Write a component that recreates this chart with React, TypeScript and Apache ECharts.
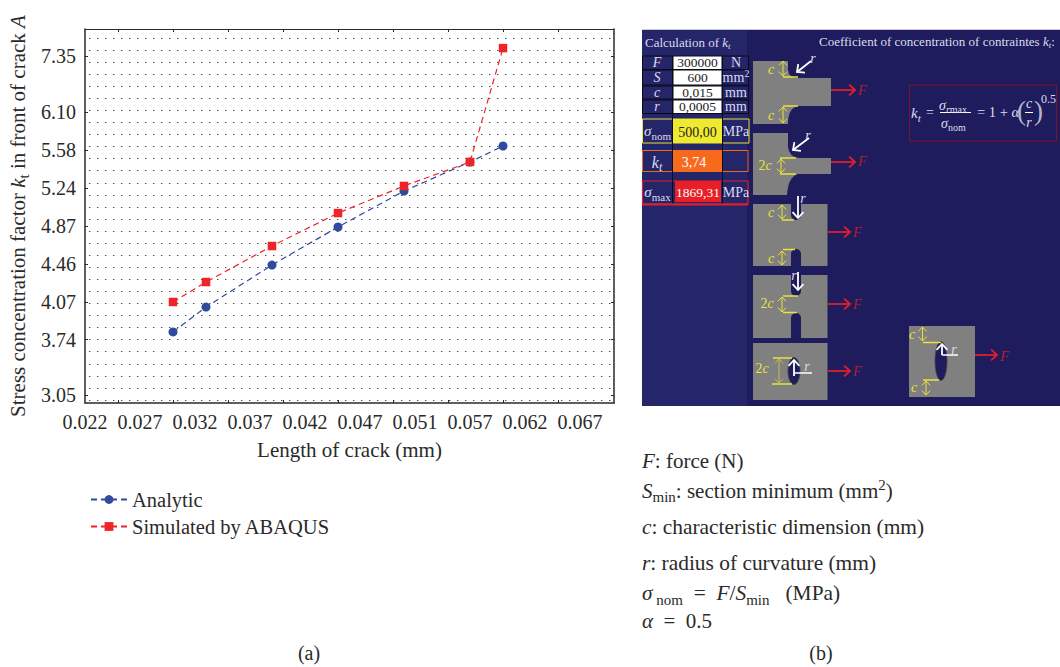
import React, { useEffect, useRef } from "react";
import * as echarts from "echarts";

const crackLengths = [0.03, 0.033, 0.039, 0.045, 0.051, 0.057, 0.06];
const analyticValues = [3.807, 4.024, 4.448, 4.859, 5.211, 5.474, 5.637];
const abaqusValues = [4.068, 4.273, 4.653, 4.996, 5.259, 5.474, 7.53];
const seriesNames = ["Analytic", "Simulated by ABAQUS"];

const xLabelValues = [0.022, 0.027, 0.032, 0.037, 0.042, 0.047, 0.052, 0.057, 0.062, 0.067];
const xLabelTexts = ["0.022", "0.027", "0.032", "0.037", "0.042", "0.047", "0.051", "0.057", "0.062", "0.067"];
const xTickValues = [0.025, 0.03, 0.035, 0.04, 0.045, 0.05, 0.055, 0.06, 0.065];

const yLabelValues = [3.05, 3.74, 4.07, 4.46, 4.87, 5.24, 5.58, 6.1, 7.35];
// The reference's y axis is not linear: each tick label has its own place on the axis.
const yLabelPlaces = [0, 1.46, 2.46, 3.46, 4.46, 5.46, 6.46, 7.46, 8.94];

const serif = "'Liberation Serif', 'Times New Roman', serif";

function place(v: number) {
  let i = 0;
  while (i < yLabelValues.length - 2 && v > yLabelValues[i + 1]) i++;
  const t = (v - yLabelValues[i]) / (yLabelValues[i + 1] - yLabelValues[i]);
  return yLabelPlaces[i] + t * (yLabelPlaces[i + 1] - yLabelPlaces[i]);
}

function rich(size: number, color: string) {
  const lh = Math.round(size * 1.3);
  const base = { fontFamily: serif, fill: color, color, lineHeight: lh };
  return {
    n: { ...base, fontSize: size },
    i: { ...base, fontSize: size, fontStyle: "italic" },
    s: { ...base, fontSize: Math.round(size * 0.72), verticalAlign: "bottom" },
    si: { ...base, fontSize: Math.round(size * 0.72), fontStyle: "italic", verticalAlign: "bottom" },
    u: { ...base, fontSize: Math.round(size * 0.72), verticalAlign: "top" },
  };
}

function T(x: number, y: number, text: string, size: number, color: string, align = "left") {
  return {
    type: "text",
    x,
    y,
    z: 30,
    style: { text, rich: rich(size, color), align, verticalAlign: "middle", font: `${size}px ${serif}`, fill: color },
  };
}

function L(x1: number, y1: number, x2: number, y2: number, color: string, w = 1) {
  return { type: "line", z: 25, shape: { x1, y1, x2, y2 }, style: { stroke: color, lineWidth: w } };
}

function head(x1: number, y1: number, x2: number, y2: number, color: string, w: number, h: number) {
  const a = Math.atan2(y2 - y1, x2 - x1);
  const p = (d: number) => [x2 - h * Math.cos(a + d), y2 - h * Math.sin(a + d)];
  return {
    type: "polyline",
    z: 25,
    shape: { points: [p(0.75), [x2, y2], p(-0.75)] },
    style: { stroke: color, lineWidth: w, fill: "none" },
  };
}

function A(x1: number, y1: number, x2: number, y2: number, color: string, w = 1.8, h = 8) {
  return [L(x1, y1, x2, y2, color, w), head(x1, y1, x2, y2, color, w, h)];
}

function D(x1: number, y1: number, x2: number, y2: number, color: string) {
  return [L(x1, y1, x2, y2, color, 1), head(x1, y1, x2, y2, color, 1, 6), head(x2, y2, x1, y1, color, 1, 6)];
}

function R(x: number, y: number, width: number, height: number, fill: string, stroke?: string, w = 1) {
  return {
    type: "rect",
    z: 20,
    shape: { x, y, width, height },
    style: { fill, stroke: stroke ?? "none", lineWidth: w },
  };
}

const BG = "#1e1c5c";
const PANEL = "#25256a";
const GRAY = "#808080";
const YEL = "#e9e33c";
const RED = "#e01f2b";
const WHITE = "#ffffff";
const SOFT = "#dcdcec";
const FRED = "#a8202f";

echarts.graphic.registerShape(
  "flat1",
  echarts.graphic.extendPath("M753 61L788 61L788 70Q789 78 798 78L831 78L831 106L798 106Q788 108 788 124L753 124Z", {})
);
echarts.graphic.registerShape(
  "flat2",
  echarts.graphic.extendPath("M753 133L788 133L788 147Q789 157 799 158L831 158L831 174L798 174Q788 177 787 195L753 195Z", {})
);

function notch(x: number, y: number, w: number, h: number, top: boolean) {
  const r = w / 2;
  return [
    { type: "rect", z: 22, shape: { x, y: top ? y : y + r, width: w, height: h - r }, style: { fill: BG } },
    { type: "ellipse", z: 22, shape: { cx: x + r, cy: top ? y + h - r : y + r, rx: r, ry: r }, style: { fill: BG } },
  ];
}

function schematic() {
  const g: any[] = [];
  g.push(R(642, 29, 418, 1.5, "#c8c8d4"));
  g.push(R(642, 30, 418, 376, BG));
  g.push(R(642, 30, 105, 376, PANEL));
  g.push(T(645, 42, "{n|Calculation of }{i|k}{si|t}", 13, SOFT));
  g.push(T(819, 41, "{n|Coefficient of concentration of contraintes }{i|k}{si|t}{n|:}", 13, SOFT));

  // table rows
  const rows: [number, number, string, string, string][] = [
    [56, 13.5, "F", "300000", "N"],
    [70, 15, "S", "600", "mm2"],
    [86, 13, "c", "0,015", "mm"],
    [100, 13.5, "r", "0,0005", "mm"],
  ];
  rows.forEach(([y, h, a, v, u]) => {
    g.push(R(642.5, y, 30, h, PANEL, "#0a0a14", 1));
    g.push(R(673, y, 49, h, WHITE, "#0a0a14", 1));
    g.push(R(722.5, y, 26, h, PANEL, "#0a0a14", 1));
    g.push(T(657, y + h / 2, `{i|${a}}`, 14, SOFT, "center"));
    g.push(T(697.5, y + h / 2, `{n|${v}}`, 13.5, "#222222", "center"));
    g.push(T(736, y + h / 2, u === "mm2" ? "{n|mm}{u|2}" : `{n|${u}}`, 14, SOFT, "center"));
  });

  g.push(L(672.5, 113, 672.5, 205, "#0a0a14", 1));
  g.push(L(722.5, 113, 722.5, 205, "#0a0a14", 1));

  g.push(R(642.5, 119, 106.5, 24, "none", "#e9e33c", 1));
  g.push(R(673, 119, 49, 24, "#efe92f"));
  g.push(T(657.5, 131, "{i|σ}{s|nom}", 15, SOFT, "center"));
  g.push(T(697.5, 132, "{n|500,00}", 14, "#222222", "center"));
  g.push(T(736, 131, "{n|MPa}", 14, SOFT, "center"));

  g.push(R(642.5, 150.5, 105.5, 21, "none", "#f06a20", 1));
  g.push(R(673, 150.5, 49, 21, "#f76a1e"));
  g.push(T(657, 162, "{i|k}{si|t}", 16, SOFT, "center"));
  g.push(T(694, 162, "{n|3,74}", 14, WHITE, "center"));

  g.push(R(642.5, 181, 105.5, 23, "none", "#e01f2b", 1.2));
  g.push(L(642, 204.5, 748, 204.5, RED, 2));
  g.push(R(675, 181, 46, 21, "#e81f27"));
  g.push(T(657.5, 192, "{i|σ}{s|max}", 15, SOFT, "center"));
  g.push(T(698, 192, "{n|1869,31}", 13.5, WHITE, "center"));
  g.push(T(736, 192, "{n|MPa}", 14, SOFT, "center"));

  // shape 1
  g.push({ type: "flat1", z: 21, style: { fill: GRAY } });
  g.push(L(783, 77, 798, 77, YEL, 1.5), L(783, 106, 798, 106, YEL, 1.5));
  g.push(...D(783, 61, 783, 76, YEL), ...D(783, 107, 783, 123, YEL));
  g.push(T(771, 69, "{i|c}", 14, YEL, "center"), T(771, 115, "{i|c}", 14, YEL, "center"));
  g.push(...A(811, 61, 797, 72, WHITE));
  g.push(T(813, 58, "{i|r}", 14, SOFT, "center"));
  g.push(...A(831, 90, 855, 90, RED));
  g.push(T(858, 90, "{i|F}", 14, FRED));

  // shape 2
  g.push({ type: "flat2", z: 21, style: { fill: GRAY } });
  g.push(L(780, 158, 796, 158, YEL, 1.5), L(780, 174, 796, 174, YEL, 1.5));
  g.push(...D(781, 159, 781, 173, YEL));
  g.push(T(765, 165, "{n|2}{i|c}", 14, YEL, "center"));
  g.push(...A(809, 138, 793, 150, WHITE));
  g.push(T(808, 135, "{i|r}", 14, SOFT, "center"));
  g.push(...A(831, 162, 855, 162, RED));
  g.push(T(858, 161, "{i|F}", 14, FRED));

  // shape 3
  g.push(R(753, 204, 74.5, 62, GRAY));
  g.push(...notch(791, 204, 10, 16, true), ...notch(791, 249, 10, 17, false));
  g.push(L(782, 220, 794, 220, YEL, 1.5), L(783, 249.5, 795, 249.5, YEL, 1.5));
  g.push(...D(782, 205, 782, 219, YEL), ...D(782, 251, 782, 265, YEL));
  g.push(T(771, 212, "{i|c}", 14, YEL, "center"), T(771, 258, "{i|c}", 14, YEL, "center"));
  g.push(...A(798, 196, 798, 218, WHITE));
  g.push(T(803, 198, "{i|r}", 14, SOFT, "center"));
  g.push(...A(828, 232, 850, 232, RED));
  g.push(T(853, 232, "{i|F}", 14, FRED));

  // shape 4
  g.push(R(753, 275, 74.5, 63, GRAY));
  g.push(...notch(791, 275, 10, 21, true), ...notch(791, 313, 10, 25, false));
  g.push(L(783, 296, 798, 296, YEL, 1.5), L(783, 312.5, 797, 312.5, YEL, 1.5));
  g.push(...D(782, 297, 782, 312, YEL));
  g.push(T(767, 303, "{n|2}{i|c}", 14, YEL, "center"));
  g.push(...A(798, 272, 798, 290, WHITE));
  g.push(T(794, 275, "{i|r}", 14, SOFT, "center"));
  g.push(...A(828, 304, 850, 304, RED));
  g.push(T(853, 304, "{i|F}", 14, FRED));

  // shape 5
  g.push(R(753, 343, 74.5, 57, GRAY));
  g.push({ type: "ellipse", z: 22, shape: { cx: 794, cy: 371, rx: 6, ry: 13.5 }, style: { fill: BG, stroke: "#444444", lineWidth: 0.8 } });
  g.push(L(773, 358, 792, 358, YEL, 1.5), L(772, 384, 792, 384, YEL, 1.5));
  g.push(...D(779, 359, 779, 383, "#c4bf55"));
  g.push(T(762, 368, "{n|2}{i|c}", 14, YEL, "center"));
  g.push(...A(794, 376, 794, 360, WHITE));
  g.push(L(794, 373, 812, 373, WHITE, 1.5));
  g.push(T(807, 366, "{i|r}", 14, SOFT, "center"));
  g.push(...A(828, 371, 850, 371, RED));
  g.push(T(853, 371, "{i|F}", 14, FRED));

  // shape 6
  g.push(R(909, 326, 66, 71, GRAY));
  g.push({ type: "ellipse", z: 22, shape: { cx: 941, cy: 361, rx: 6, ry: 19.5 }, style: { fill: BG, stroke: "#444444", lineWidth: 0.8 } });
  g.push(L(923, 342.5, 941, 342.5, YEL, 1.5), L(923, 380, 939, 380, YEL, 1.5));
  g.push(...D(922.5, 327, 922.5, 341, YEL), ...D(926, 381, 926, 395, YEL));
  g.push(T(912, 334, "{i|c}", 14, YEL, "center"), T(914, 387, "{i|c}", 14, YEL, "center"));
  g.push(...A(942, 355, 942, 344, WHITE));
  g.push(L(942, 355, 958, 355, WHITE, 1.5));
  g.push(T(954, 349, "{i|r}", 14, SOFT, "center"));
  g.push(...A(975, 355, 997, 355, RED));
  g.push(T(1000, 356, "{i|F}", 15, FRED));

  // formula box
  g.push(R(909.5, 85, 147, 56, "none", "#7c1226", 1));
  g.push(T(911, 113, "{i|k}{si|t}", 15, SOFT));
  g.push(T(926, 112, "{n|=}", 14, SOFT));
  g.push(T(939, 105, "{i|σ}{si|r}{s|max}", 14, SOFT));
  g.push(L(940, 112.5, 971, 112.5, WHITE, 1));
  g.push(T(941, 123, "{i|σ}{s|nom}", 14, SOFT));
  g.push(T(977, 112, "{n|= 1 + }{i|α}", 14.5, SOFT));
  g.push(T(1017, 111, "{n|(}", 27, "#b4b4cc"));
  g.push(T(1029, 103, "{i|c}", 14, SOFT, "center"));
  g.push(L(1025, 112.5, 1033, 112.5, WHITE, 1));
  g.push(T(1029, 122, "{i|r}", 14, SOFT, "center"));
  g.push(T(1034, 111, "{n|)}", 27, "#b4b4cc"));
  g.push(T(1041, 99, "{n|0.5}", 12, SOFT));

  // key text
  const ink = "#2a2a2a";
  g.push(T(642, 461, "{i|F}{n|: force (N)}", 21, ink));
  g.push(T(642, 491, "{i|S}{s|min}{n|: section minimum (mm}{u|2}{n|)}", 21, ink));
  g.push(T(642, 527, "{i|c}{n|: characteristic dimension (mm)}", 21.4, ink));
  g.push(T(642, 563, "{i|r}{n|: radius of curvature (mm)}", 21.4, ink));
  g.push(T(642, 593, "{i|σ}{s| nom}{n|  =  }{i|F}{n|/}{i|S}{s|min}{n|   (MPa)}", 21.4, ink));
  g.push(T(642, 621, "{i|α}{n|  =  0.5}", 21, ink));
  g.push(T(309, 653, "{n|(a)}", 20, ink, "center"));
  g.push(T(821, 653, "{n|(b)}", 20, ink, "center"));
  return g;
}

export default function App() {
  const ref = useRef<HTMLDivElement>(null);
  useEffect(() => {
    const chart = echarts.init(ref.current!, undefined, { renderer: "svg" });
    const axisInk = { show: true, onZero: false, lineStyle: { color: "#2a2a2a", width: 1.5 } };
    const tick = (customValues: number[]) => ({
      show: true,
      inside: true,
      length: 3,
      customValues,
      lineStyle: { color: "#2a2a2a", width: 1 },
    });
    const yMin = -0.211;
    const yMax = 9.657;
    chart.setOption({
      animation: false,
      backgroundColor: "#ffffff",
      textStyle: { fontFamily: serif },
      grid: [
        { left: 85, top: 29, width: 529, height: 374, outerBoundsMode: "none" },
        { left: 85, top: 38, width: 529, height: 362, outerBoundsMode: "none" },
      ],
      legend: {
        show: true,
        orient: "vertical",
        left: 85,
        top: 484,
        itemWidth: 36,
        itemHeight: 11,
        itemGap: 6,
        data: seriesNames,
        textStyle: { fontFamily: serif, fontSize: 20.5, color: "#2a2a2a" },
      },
      xAxis: [
        {
          type: "value",
          gridIndex: 0,
          min: 0.022,
          max: 0.07009,
          position: "bottom",
          axisLine: axisInk,
          axisTick: tick(xTickValues),
          splitLine: { show: false },
          axisLabel: {
            show: true,
            customValues: xLabelValues,
            margin: 9,
            fontFamily: serif,
            fontSize: 20,
            color: "#2a2a2a",
            formatter: (v: number) => xLabelTexts[xLabelValues.findIndex((c) => Math.abs(c - v) < 1e-6)] ?? "",
            hideOverlap: false,
            showMinLabel: true,
          },
          name: "Length of crack (mm)",
          nameLocation: "middle",
          nameGap: 36,
          nameTextStyle: { fontFamily: serif, fontSize: 21, color: "#2a2a2a" },
        },
        { type: "value", gridIndex: 1, min: 0, max: 1, show: false },
        {
          type: "value",
          gridIndex: 0,
          min: 0.022,
          max: 0.07009,
          position: "top",
          axisLine: { ...axisInk, lineStyle: { color: "#2a2a2a", width: 1 } },
          axisTick: tick(xTickValues),
          axisLabel: { show: false },
          splitLine: { show: false },
        },
      ],
      yAxis: [
        {
          type: "value",
          gridIndex: 0,
          min: yMin,
          max: yMax,
          position: "left",
          axisLine: axisInk,
          axisTick: tick(yLabelPlaces),
          splitLine: { show: false },
          axisLabel: {
            show: true,
            customValues: yLabelPlaces,
            margin: 9,
            fontFamily: serif,
            fontSize: 20,
            color: "#2a2a2a",
            formatter: (v: number) => {
              const i = yLabelPlaces.findIndex((c) => Math.abs(c - v) < 1e-6);
              return i >= 0 ? yLabelValues[i].toFixed(2) : "";
            },
          },
          name: "{n|Stress concentration factor }{i|k}{s|t}{n| in front of crack }{i|A}",
          nameLocation: "middle",
          nameRotate: 90,
          nameGap: 54,
          nameTextStyle: { rich: rich(21, "#2a2a2a") },
        },
        {
          type: "value",
          gridIndex: 1,
          min: 0,
          max: 30,
          interval: 1,
          axisLine: { show: false },
          axisTick: { show: false },
          axisLabel: { show: false },
          splitLine: {
            show: true,
            lineStyle: { color: "#444444", width: 1.2, type: [1.4, 6.6], dashOffset: -4 },
          },
        },
        {
          type: "value",
          gridIndex: 0,
          min: yMin,
          max: yMax,
          position: "right",
          axisLine: axisInk,
          axisTick: tick(yLabelPlaces),
          axisLabel: { show: false },
          splitLine: { show: false },
        },
      ],
      series: [
        {
          name: seriesNames[0],
          type: "line",
          xAxisIndex: 0,
          yAxisIndex: 0,
          data: crackLengths.map((x, i) => [x, place(analyticValues[i])]),
          symbol: "circle",
          symbolSize: 9,
          itemStyle: { color: "#2f4b9f" },
          lineStyle: { color: "#2f4b9f", width: 1.2, type: [6, 4] },
          z: 3,
        },
        {
          name: seriesNames[1],
          type: "line",
          xAxisIndex: 0,
          yAxisIndex: 0,
          data: crackLengths.map((x, i) => [x, place(abaqusValues[i])]),
          symbol: "rect",
          symbolSize: 8.5,
          itemStyle: { color: "#ee2429" },
          lineStyle: { color: "#ee2429", width: 1.2, type: [6, 4] },
          z: 4,
        },
      ],
      graphic: { elements: schematic() },
    });
    return () => chart.dispose();
  }, []);
  return <div ref={ref} style={{ position: "fixed", left: 0, top: 0, width: 1060, height: 667 }} />;
}
